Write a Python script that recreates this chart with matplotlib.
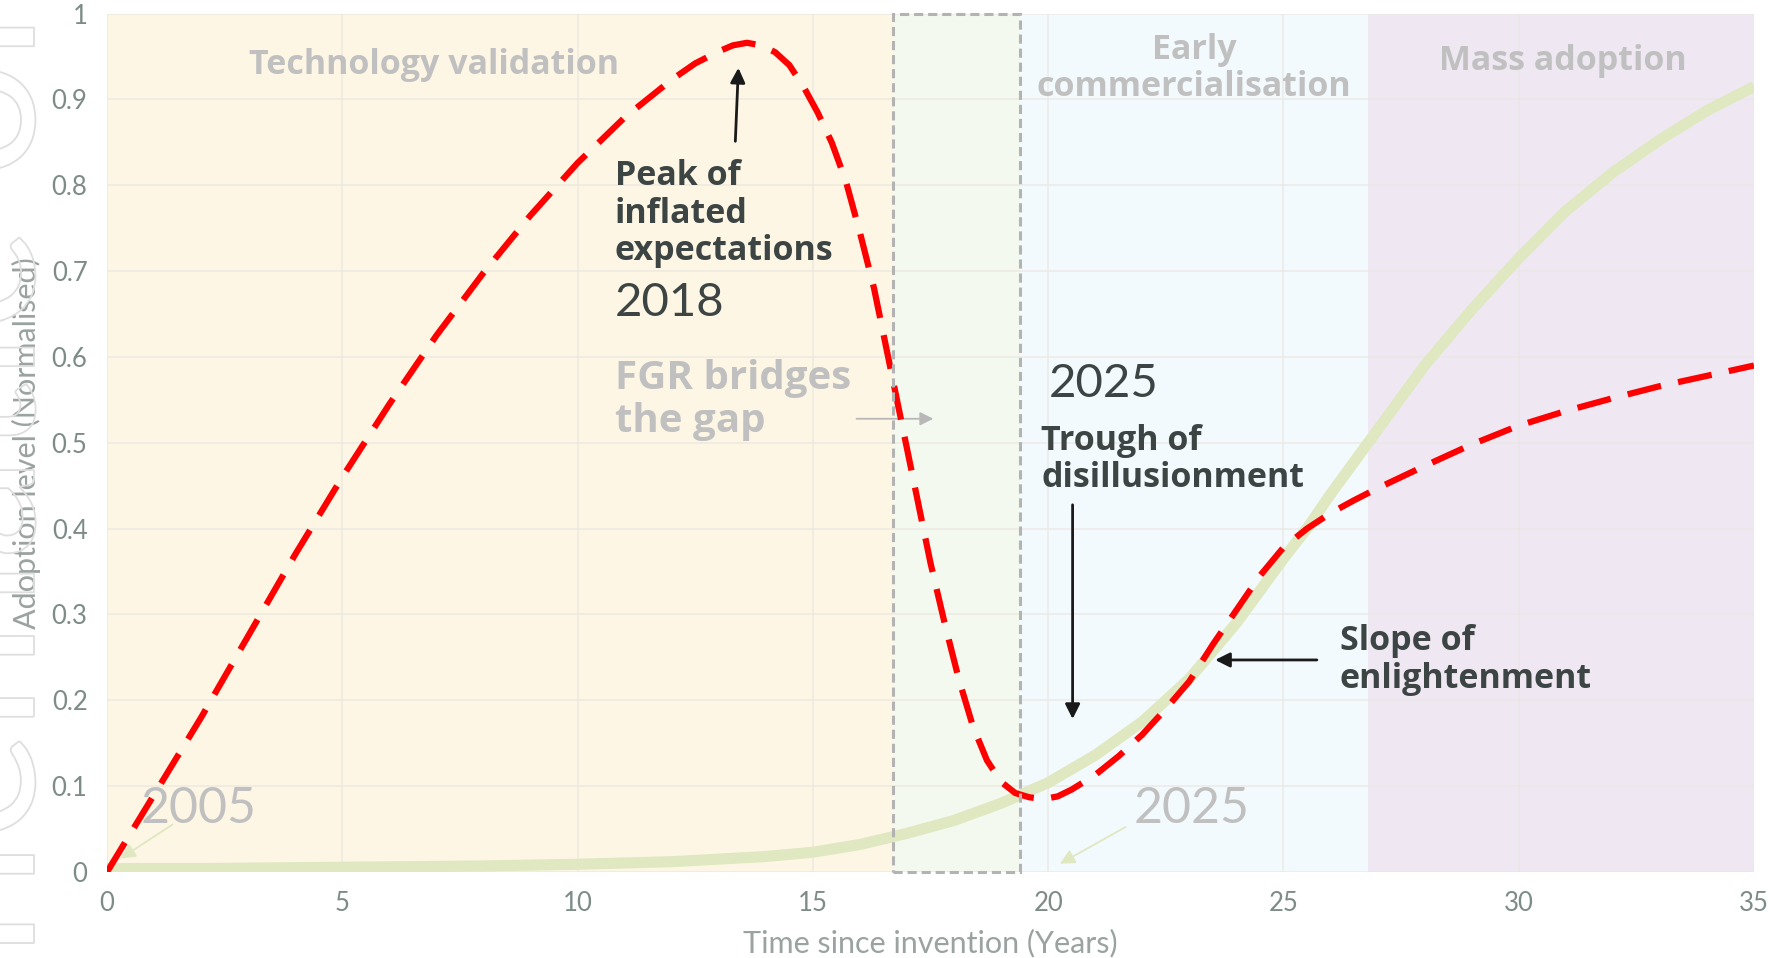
import matplotlib
matplotlib.use("Agg")
import matplotlib.pyplot as plt
import matplotlib.patheffects as pe
from matplotlib.patches import Rectangle

# Data
years_hype = [0, 1, 2, 3, 4, 5, 6, 7, 8, 9, 10, 11, 12, 12.5, 13, 13.3, 13.6,
              13.9, 14.2, 14.5, 14.8, 15.1, 15.4, 15.7, 16.0, 16.3, 16.6, 16.9,
              17.2, 17.5, 17.8, 18.1, 18.4, 18.7, 19.0, 19.3, 19.6, 19.9, 20.2,
              20.5, 21, 21.5, 22, 22.5, 23, 23.5, 24, 24.5, 25, 25.5, 26, 26.5,
              27, 27.5, 28, 29, 30, 31, 32, 33, 34, 35]
hype = [0, 0.09, 0.18, 0.275, 0.37, 0.46, 0.545, 0.625, 0.698, 0.765, 0.826,
        0.879, 0.923, 0.942, 0.956, 0.963, 0.966, 0.963, 0.955, 0.94, 0.915,
        0.885, 0.85, 0.805, 0.745, 0.68, 0.6, 0.52, 0.44, 0.36, 0.29, 0.225,
        0.17, 0.13, 0.105, 0.092, 0.087, 0.085, 0.088, 0.096, 0.113, 0.135,
        0.16, 0.19, 0.222, 0.265, 0.305, 0.345, 0.378, 0.40, 0.418, 0.433,
        0.447, 0.46, 0.473, 0.498, 0.52, 0.537, 0.552, 0.566, 0.578, 0.59]

years_adopt = [0, 2, 4, 6, 8, 10, 12, 14, 15, 16, 17, 18, 19, 20, 21, 22, 23,
               24, 25, 25.5, 26, 27, 28, 29, 30, 31, 32, 33, 34, 35]
adopt = [0.004, 0.004, 0.005, 0.006, 0.007, 0.009, 0.012, 0.018, 0.023, 0.032,
         0.045, 0.06, 0.08, 0.104, 0.136, 0.175, 0.225, 0.29, 0.365, 0.40, 0.44,
         0.515, 0.59, 0.655, 0.715, 0.77, 0.815, 0.853, 0.887, 0.915]

phase_edges = [0, 16.7, 19.4, 26.8, 35]
phase_colors = ["#fdf6e4", "#f3f9ee", "#f3fafd", "#efe8f3"]

x_ticks = [0, 5, 10, 15, 20, 25, 30, 35]
y_ticks = [0, 0.1, 0.2, 0.3, 0.4, 0.5, 0.6, 0.7, 0.8, 0.9, 1]
y_tick_labels = ["0", "0.1", "0.2", "0.3", "0.4", "0.5", "0.6", "0.7", "0.8", "0.9", "1"]

BOLD = "Open Sans"
LIGHT = "Lato"
dark = "#3c4543"
pale = "#c0c0c0"

fig = plt.figure(figsize=(17.69, 9.58), dpi=100)
ax = fig.add_axes([0.0605, 0.0898, 0.931, 0.896])

# background phases
for i in range(len(phase_colors)):
    ax.axvspan(phase_edges[i], phase_edges[i + 1], color=phase_colors[i], zorder=0, lw=0)

ax.set_axisbelow(True)
ax.grid(True, color="#e9e6df", lw=1.2, alpha=0.7)

# adoption curve + hype cycle
ax.plot(years_adopt, adopt, color="#dfe8c0", lw=8, solid_capstyle="butt",
        solid_joinstyle="round", zorder=3)
ax.plot(years_hype, hype, color="#ff0000", lw=4.5, dashes=(5.5, 2.8), zorder=4)

# gap box
ax.add_patch(Rectangle((phase_edges[1], 0), phase_edges[2] - phase_edges[1], 1,
                       fill=False, ec="#b3b3b3", lw=2.2, ls=(0, (3, 1.6)), zorder=5,
                       clip_on=False))

ax.set_xlim(0, 35)
ax.set_ylim(0, 1)
ax.set_xticks(x_ticks)
ax.set_yticks(y_ticks)
ax.set_yticklabels(y_tick_labels)
ax.tick_params(length=0, labelsize=18.5, labelcolor="#7d8c87", pad=14)
for lab in ax.get_xticklabels() + ax.get_yticklabels():
    lab.set_family(LIGHT)
for s in ax.spines.values():
    s.set_visible(False)

ax.set_xlabel("Time since invention (Years)", fontsize=22, color="#9aa3a0",
              family=LIGHT)
ax.set_ylabel("Adoption level (Normalised)", fontsize=22, color="#9aa3a0",
              family=LIGHT)
ax.xaxis.set_label_coords(0.5, -0.066)
ax.yaxis.set_label_coords(-0.040, 0.5)

# phase titles
ax.text(6.95, 0.940, "Technology validation", ha="center", va="center",
        fontsize=24.5, color=pale, weight="bold", family=BOLD)
ax.text(23.1, 0.936, "Early\ncommercialisation", ha="center", va="center",
        fontsize=24.5, color=pale, weight="bold", family=BOLD, linespacing=1.12)
ax.text(30.93, 0.945, "Mass adoption", ha="center", va="center",
        fontsize=24.5, color=pale, weight="bold", family=BOLD)

# annotations
arrow_k = dict(arrowstyle="-|>", color="#1a1a1a", lw=2, mutation_scale=22)
ax.text(10.79, 0.831, "Peak of\ninflated\nexpectations", ha="left", va="top",
        fontsize=24.5, color=dark, weight="bold", family=BOLD, linespacing=1.15)
ax.annotate("", xy=(13.42, 0.94), xytext=(13.35, 0.848), arrowprops=arrow_k)
ax.text(10.79, 0.648, "2018", ha="left", va="baseline", fontsize=34,
        color=dark, family=LIGHT)

ax.text(10.79, 0.598, "FGR bridges\nthe gap", ha="left", va="top",
        fontsize=29, color=pale, weight="bold", family=BOLD, linespacing=1.16)
ax.annotate("", xy=(17.62, 0.528), xytext=(15.87, 0.528),
            arrowprops=dict(arrowstyle="-|>", color="#b8b8b8", lw=1.3, mutation_scale=20))

ax.text(20.02, 0.553, "2025", ha="left", va="baseline", fontsize=34,
        color=dark, family=LIGHT)
ax.text(19.85, 0.522, "Trough of\ndisillusionment", ha="left", va="top",
        fontsize=24.5, color=dark, weight="bold", family=BOLD, linespacing=1.13)
ax.annotate("", xy=(20.52, 0.175), xytext=(20.52, 0.431), arrowprops=arrow_k)

ax.text(26.2, 0.289, "Slope of\nenlightenment", ha="left", va="top",
        fontsize=24.5, color=dark, weight="bold", family=BOLD, linespacing=1.15)
ax.annotate("", xy=(23.49, 0.247), xytext=(25.77, 0.247), arrowprops=arrow_k)

green_k = dict(arrowstyle="-|>", color="#dfe8c0", lw=1.3, mutation_scale=22)
ax.text(0.72, 0.057, "2005", ha="left", va="baseline", fontsize=36,
        color=pale, family=LIGHT, zorder=6)
ax.annotate("", xy=(0.24, 0.014), xytext=(1.44, 0.057), arrowprops=green_k)
ax.text(21.82, 0.057, "2025", ha="left", va="baseline", fontsize=36,
        color=pale, family=LIGHT, zorder=6)
ax.annotate("", xy=(20.2, 0.008), xytext=(21.7, 0.054), arrowprops=green_k)

# faint outline watermark on the left edge
fig.text(34 / 1769, 0.5, "Schematic only", rotation=90, rotation_mode="anchor",
         ha="center", va="baseline", fontsize=150, color="none", family=LIGHT,
         path_effects=[pe.withStroke(linewidth=1.3, foreground="#dedede")])

fig.savefig("out.png", dpi=100, facecolor="white")
